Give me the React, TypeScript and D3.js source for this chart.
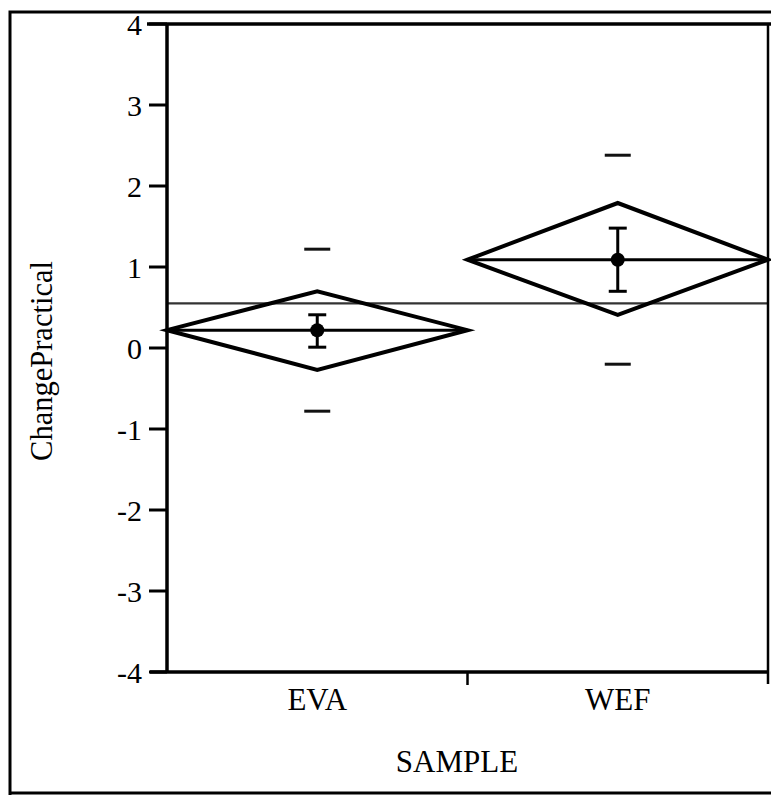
import React from "react";
import * as d3 from "d3";

const categories = ["EVA", "WEF"];
const means = [0.22, 1.09];
const diamondLow = [-0.27, 0.41];
const diamondHigh = [0.7, 1.79];
const errLow = [0.01, 0.7];
const errHigh = [0.41, 1.48];
const sdLow = [-0.78, -0.2];
const sdHigh = [1.22, 2.38];
const grandMean = 0.55;
const yTicks = [4, 3, 2, 1, 0, -1, -2, -3, -4];

const W = 771;
const H = 795;
const font = "'Liberation Serif', 'Times New Roman', serif";

const App = () => {
  const x = d3.scaleBand().domain(categories).range([167, 768]).padding(0);
  const y = d3.scaleLinear().domain([-4, 4]).range([672, 24]);
  const bw = x.bandwidth();

  return (
    <svg width={W} height={H} style={{ position: "absolute", left: 0, top: 0 }}>
      <rect width={W} height={H} fill="#fff" />
      {/* outer frame */}
      <path d={`M10,${H} V12 H${W}`} fill="none" stroke="#000" strokeWidth={3} />
      <line x1={10} x2={W} y1={793} y2={793} stroke="#000" strokeWidth={3} />

      {/* grand mean */}
      <line x1={x.range()[0]} x2={x.range()[1]} y1={y(grandMean)} y2={y(grandMean)}
        stroke="#333" strokeWidth={2.2} />

      {categories.map((c, i) => {
        const x0 = x(c)!;
        const cx = x0 + bw / 2;
        const diamond = d3.line()([
          [x0, y(means[i])],
          [cx, y(diamondHigh[i])],
          [x0 + bw, y(means[i])],
          [cx, y(diamondLow[i])],
        ]) + "Z";
        return (
          <g key={c}>
            <path d={diamond} fill="none" stroke="#000" strokeWidth={4} strokeLinejoin="miter" />
            <line x1={x0} x2={x0 + bw} y1={y(means[i])} y2={y(means[i])} stroke="#000" strokeWidth={3} />
            <line x1={cx} x2={cx} y1={y(errLow[i])} y2={y(errHigh[i])} stroke="#000" strokeWidth={3} />
            <line x1={cx - 9} x2={cx + 9} y1={y(errLow[i])} y2={y(errLow[i])} stroke="#000" strokeWidth={3} />
            <line x1={cx - 9} x2={cx + 9} y1={y(errHigh[i])} y2={y(errHigh[i])} stroke="#000" strokeWidth={3} />
            <circle cx={cx} cy={y(means[i])} r={7} fill="#000" />
            <line x1={cx - 13} x2={cx + 13} y1={y(sdHigh[i])} y2={y(sdHigh[i])} stroke="#111" strokeWidth={3} />
            <line x1={cx - 13} x2={cx + 13} y1={y(sdLow[i])} y2={y(sdLow[i])} stroke="#111" strokeWidth={3} />
            <text x={cx} y={710} textAnchor="middle" fontFamily={font} fontSize={31}>{c}</text>
          </g>
        );
      })}

      {/* axes */}
      <line x1={167} x2={167} y1={24} y2={672} stroke="#000" strokeWidth={3.5} />
      <line x1={147} x2={W} y1={24} y2={24} stroke="#000" strokeWidth={3.5} />
      <line x1={150} x2={768} y1={672} y2={672} stroke="#000" strokeWidth={3.5} />
      <line x1={768} x2={768} y1={24} y2={684} stroke="#000" strokeWidth={2.5} />
      <line x1={x("WEF")!} x2={x("WEF")!} y1={672} y2={685} stroke="#000" strokeWidth={2.5} />

      {yTicks.map((t) => (
        <g key={t}>
          <line x1={149} x2={167} y1={y(t)} y2={y(t)} stroke="#000" strokeWidth={3} />
          <text x={142} y={y(t) + 10.5} textAnchor="end" fontFamily={font} fontSize={30}>{t}</text>
        </g>
      ))}

      <text transform="translate(52,361) rotate(-90)" textAnchor="middle" fontFamily={font} fontSize={30.5}>
        ChangePractical
      </text>
      <text x={457} y={772} textAnchor="middle" fontFamily={font} fontSize={31}>SAMPLE</text>
    </svg>
  );
};

export default App;
